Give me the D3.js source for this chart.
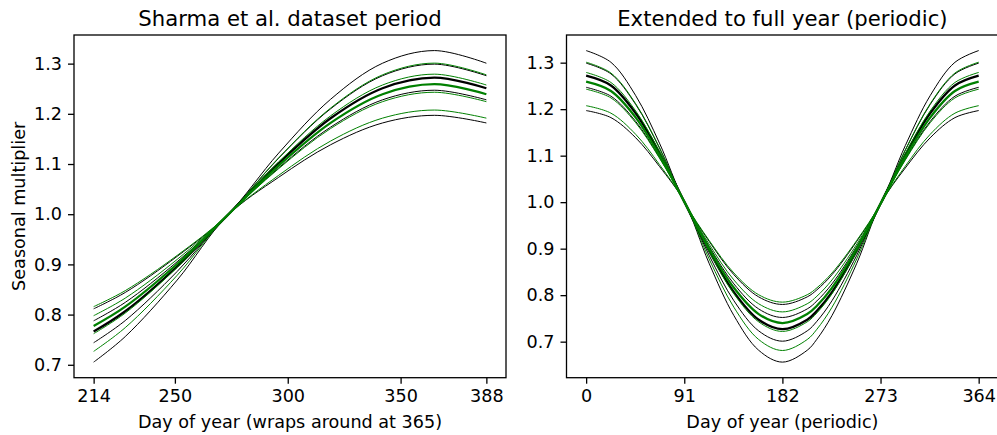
<!DOCTYPE html>
<html>
<head>
<meta charset="utf-8">
<script src="https://cdn.jsdelivr.net/npm/d3@7"></script>
<style>
  body { margin: 0; background: #fff; }
  svg { display: block; font-family: "DejaVu Sans", sans-serif; }
</style>
</head>
<body>
<svg id="chart" width="997" height="435"></svg>
<script>
const days = [0, 23, 46, 68, 91, 114, 137, 160, 182, 205, 214, 228, 251, 273, 296, 319, 342, 364];

// black set: upper bounds .. lower bounds, index 2 is the thick middle line
const blackCurves = [
  [1.3260, 1.3008, 1.2290, 1.1270, 1.0014, 0.9160, 0.8441, 0.7963, 0.7800, 0.7963, 0.8115, 0.8441, 0.9160, 0.9972, 1.1218, 1.2290, 1.3008, 1.3260],
  [1.2990, 1.2759, 1.2100, 1.1165, 1.0013, 0.9053, 0.8243, 0.7704, 0.7520, 0.7704, 0.7876, 0.8243, 0.9053, 0.9968, 1.1117, 1.2100, 1.2759, 1.2990],
  [1.2720, 1.2509, 1.1911, 1.1060, 1.0012, 0.8958, 0.8066, 0.7472, 0.7270, 0.7472, 0.7662, 0.8066, 0.8958, 0.9965, 1.1016, 1.1911, 1.2509, 1.2720],
  [1.2470, 1.2279, 1.1735, 1.0962, 1.0011, 0.8859, 0.7881, 0.7232, 0.7010, 0.7232, 0.7439, 0.7881, 0.8859, 0.9961, 1.0923, 1.1735, 1.2279, 1.2470],
  [1.1970, 1.1818, 1.1384, 1.0768, 1.0008, 0.8687, 0.7562, 0.6815, 0.6560, 0.6815, 0.7053, 0.7562, 0.8687, 0.9956, 1.0736, 1.1384, 1.1818, 1.1970]
];
// green set, same layout
const greenCurves = [
  [1.3010, 1.2777, 1.2115, 1.1173, 1.0013, 0.9179, 0.8477, 0.8009, 0.7850, 0.8009, 0.8158, 0.8477, 0.9179, 0.9972, 1.1125, 1.2115, 1.2777, 1.3010],
  [1.2790, 1.2574, 1.1960, 1.1087, 1.0012, 0.9099, 0.8328, 0.7815, 0.7640, 0.7815, 0.7978, 0.8328, 0.9099, 0.9970, 1.1043, 1.1960, 1.2574, 1.2790],
  [1.2590, 1.2390, 1.1819, 1.1009, 1.0011, 0.9008, 0.8158, 0.7593, 0.7400, 0.7593, 0.7773, 0.8158, 0.9008, 0.9966, 1.0968, 1.1819, 1.2390, 1.2590],
  [1.2430, 1.2242, 1.1707, 1.0947, 1.0010, 0.8939, 0.8030, 0.7426, 0.7220, 0.7426, 0.7619, 0.8030, 0.8939, 0.9964, 1.0908, 1.1707, 1.2242, 1.2430],
  [1.2075, 1.1914, 1.1458, 1.0808, 1.0009, 0.8782, 0.7740, 0.7046, 0.6810, 0.7046, 0.7267, 0.7740, 0.8782, 0.9959, 1.0775, 1.1458, 1.1914, 1.2075]
];

const leftTicks = [214, 250, 300, 350, 388];
const rightTicks = [0, 91, 182, 273, 364];
const yTicks = [0.7, 0.8, 0.9, 1.0, 1.1, 1.2, 1.3];
const titles = ["Sharma et al. dataset period", "Extended to full year (periodic)"];
const xLabels = ["Day of year (wraps around at 365)", "Day of year (periodic)"];
const yLabel = "Seasonal multiplier";

const svg = d3.select('#chart');
const plotTop = 35, plotBottom = 377.7;
const fontSize = 17.6;

// build the series for each panel
function fullYear(curve){
  return days.map((d, i) => ({ day: d, v: curve[i] }));
}
// left panel: days 214..342 then wrap days 0..23 to 365..388
function wrapped(curve){
  let pts = [];
  days.forEach((d, i) => { if (d >= 214 && d < 364) pts.push({ day: d, v: curve[i] }); });
  days.forEach((d, i) => { if (d <= 23) pts.push({ day: d + 365, v: curve[i] }); });
  return pts;
}

function pad(ext){
  let r = ext[1] - ext[0];
  return [ext[0] - r * 0.05, ext[1] + r * 0.05];
}

function drawPanel(x0, x1, series, ticks, title, xLabel, showYLabel){
  let all = [];
  series.forEach(s => s.pts.forEach(p => all.push(p)));
  let xScale = d3.scaleLinear().domain(pad([ticks[0], ticks[ticks.length-1]])).range([x0, x1]);
  let yScale = d3.scaleLinear().domain(pad(d3.extent(all, p => p.v))).range([plotBottom, plotTop]);

  let g = svg.append('g');

  let clipId = 'clip' + Math.round(x0);
  g.append('clipPath').attr('id', clipId)
    .append('rect').attr('x', x0).attr('y', plotTop).attr('width', x1 - x0).attr('height', plotBottom - plotTop);

  let line = d3.line()
    .x(p => xScale(p.day))
    .y(p => yScale(p.v))
    .curve(d3.curveCatmullRom.alpha(0.5));

  g.append('g').attr('clip-path', `url(#${clipId})`)
    .selectAll('path')
    .data(series)
    .enter()
    .append('path')
    .attr('d', s => line(s.pts))
    .attr('fill', 'none')
    .attr('stroke', s => s.color)
    .attr('stroke-width', s => s.thick ? 2.3 : 1.0);

  let xAxis = d3.axisBottom(xScale).tickValues(ticks).tickSize(6).tickPadding(6).tickFormat(d3.format('d'));
  let yAxis = d3.axisLeft(yScale).tickValues(yTicks).tickSize(6).tickPadding(6).tickFormat(d3.format('.1f'));

  let gx = g.append('g').attr('transform', `translate(0,${plotBottom})`).call(xAxis);
  let gy = g.append('g').attr('transform', `translate(${x0},0)`).call(yAxis);
  [gx, gy].forEach(a => {
    a.select('.domain').remove();
    a.selectAll('line').attr('stroke', '#000').attr('stroke-width', 1.3);
    a.selectAll('text').attr('font-size', fontSize).attr('fill', '#000').attr('font-family', 'DejaVu Sans');
  });

  // frame
  g.append('rect')
    .attr('x', x0).attr('y', plotTop)
    .attr('width', x1 - x0).attr('height', plotBottom - plotTop)
    .attr('fill', 'none').attr('stroke', '#000').attr('stroke-width', 1.3);

  g.append('text')
    .attr('x', (x0 + x1) / 2).attr('y', 25.5)
    .attr('text-anchor', 'middle')
    .attr('font-size', 21.2)
    .text(title);

  g.append('text')
    .attr('x', (x0 + x1) / 2).attr('y', 427.5)
    .attr('text-anchor', 'middle')
    .attr('font-size', fontSize)
    .text(xLabel);

  if (showYLabel){
    g.append('text')
      .attr('transform', `translate(25,${(plotTop + plotBottom) / 2}) rotate(-90)`)
      .attr('text-anchor', 'middle')
      .attr('font-size', fontSize)
      .text(yLabel);
  }
}

function makeSeries(fn){
  let out = [];
  blackCurves.forEach((c, i) => out.push({ color: '#000000', thick: i === 2, pts: fn(c) }));
  greenCurves.forEach((c, i) => out.push({ color: '#008000', thick: i === 2, pts: fn(c) }));
  return out;
}

drawPanel(74, 506, makeSeries(wrapped), leftTicks, titles[0], xLabels[0], true);
drawPanel(566.5, 998.3, makeSeries(fullYear), rightTicks, titles[1], xLabels[1], false);
</script>
</body>
</html>
